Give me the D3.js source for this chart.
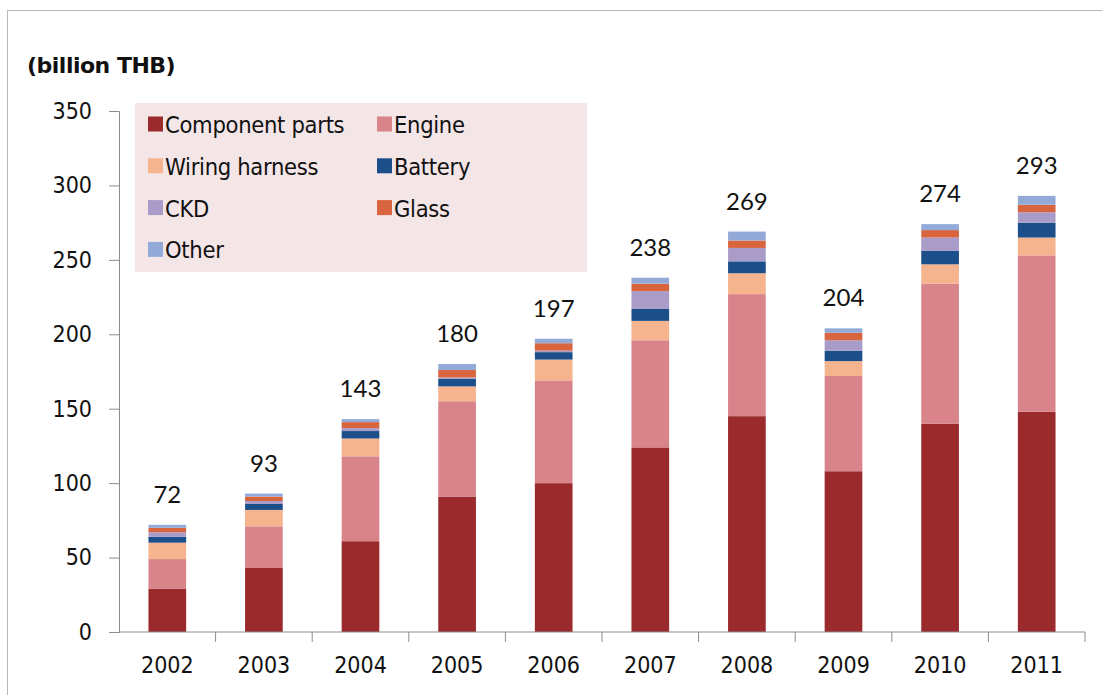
<!DOCTYPE html>
<html>
<head>
<meta charset="utf-8">
<script src="https://cdn.jsdelivr.net/npm/d3@7"></script>
<style>
  body { margin: 0; background: #fff; }
  svg { display: block; }
</style>
</head>
<body>
<svg id="chart" width="1102" height="695"></svg>
<script>
// values (billion THB)
var years = ["2002", "2003", "2004", "2005", "2006", "2007", "2008", "2009", "2010", "2011"];
var totals = [72, 93, 143, 180, 197, 238, 269, 204, 274, 293];
var seriesNames = ["Component parts", "Engine", "Wiring harness", "Battery", "CKD", "Glass", "Other"];
var componentParts = [29, 43, 61, 91, 100, 124, 145, 108, 140, 148];
var engine         = [20, 28, 57, 64, 69, 72, 82, 64, 94, 105];
var wiringHarness  = [11, 11, 12, 10, 14, 13, 14, 10, 13, 12];
var battery        = [4, 4, 5, 5, 5, 8, 8, 7, 9, 10];
var ckd            = [3, 2, 2, 1, 1, 12, 9, 7, 9, 7];
var glass          = [3, 3, 4, 5, 5, 5, 5, 5, 5, 5];
var other          = [2, 2, 2, 4, 3, 4, 6, 3, 4, 6];
var yTicks = [0, 50, 100, 150, 200, 250, 300, 350];

var colors = ["#9a2a2c", "#d9848b", "#f5b38e", "#1c4f8a", "#a99cc9", "#d9653e", "#93aad8"];

var seriesValues = [componentParts, engine, wiringHarness, battery, ckd, glass, other];
var rows = years.map(function (y, i) {
    var r = { year: y };
    seriesNames.forEach(function (s, k) { r[s] = seriesValues[k][i]; });
    return r;
});

var svg = d3.select("#chart");

// outer frame
svg.append("rect")
    .attr("x", 7.5).attr("y", 10.5)
    .attr("width", 1200).attr("height", 800)
    .attr("fill", "none")
    .attr("stroke", "#b8b8b8");

var x = d3.scaleBand().domain(years).range([119, 1085]).paddingInner(0.61).paddingOuter(0.305);
var y = d3.scaleLinear().domain([0, 350]).range([632, 111]);

var stack = d3.stack().keys(seriesNames);
var layers = stack(rows);

// bars
svg.append("g").selectAll("g")
    .data(layers)
    .enter().append("g")
    .attr("fill", function (d, i) { return colors[i]; })
    .selectAll("rect")
    .data(function (d) { return d; })
    .enter().append("rect")
    .attr("x", function (d) { return x(d.data.year); })
    .attr("width", x.bandwidth())
    .attr("y", function (d) { return y(d[1]); })
    .attr("height", function (d) { return y(d[0]) - y(d[1]); });

var tickFont = "'DejaVu Sans Condensed', 'Liberation Sans Narrow', sans-serif";

// y axis
var yAxis = svg.append("g")
    .attr("transform", "translate(119,0)")
    .call(d3.axisLeft(y).tickValues(yTicks).tickSize(10).tickPadding(17));
yAxis.select(".domain").attr("stroke", "#8c8c8c");
yAxis.selectAll(".tick line").attr("stroke", "#8c8c8c");
yAxis.selectAll("text")
    .attr("fill", "#111")
    .style("font-family", tickFont)
    .style("font-size", "23px");

// x axis, ticks between categories
var xAxisG = svg.append("g").attr("transform", "translate(0,632)");
xAxisG.append("line")
    .attr("x1", 119).attr("x2", 1085)
    .attr("stroke", "#8c8c8c");
var step = x.step();
var gap = (step - x.bandwidth()) / 2;
xAxisG.selectAll(".sep")
    .data(years)
    .enter().append("line")
    .attr("x1", function (d) { return x(d) - gap + step; })
    .attr("x2", function (d) { return x(d) - gap + step; })
    .attr("y1", 0).attr("y2", 10)
    .attr("stroke", "#8c8c8c");
xAxisG.selectAll(".lbl")
    .data(years)
    .enter().append("text")
    .attr("x", function (d) { return x(d) + x.bandwidth() / 2; })
    .attr("y", 41)
    .attr("text-anchor", "middle")
    .attr("fill", "#111")
    .style("font-family", tickFont)
    .style("font-size", "23px")
    .text(function (d) { return d; });

// totals above bars
svg.append("g").selectAll("text")
    .data(rows)
    .enter().append("text")
    .attr("x", function (d) { return x(d.year) + x.bandwidth() / 2; })
    .attr("y", function (d, i) { return y(totals[i]) - 22; })
    .attr("text-anchor", "middle")
    .attr("fill", "#111")
    .style("font-family", "Lato, 'Open Sans', sans-serif")
    .style("font-size", "24px")
    .text(function (d, i) { return totals[i]; });

// unit label
svg.append("text")
    .attr("x", 27).attr("y", 73)
    .attr("fill", "#111")
    .style("font-family", "'DejaVu Sans', sans-serif")
    .style("font-weight", "bold")
    .style("font-size", "22px")
    .style("letter-spacing", "-0.5px")
    .text("(billion THB)");

// legend
var legend = svg.append("g");
legend.append("rect")
    .attr("x", 135).attr("y", 103)
    .attr("width", 452).attr("height", 169)
    .attr("fill", "#f4e5e7");
var legendItems = legend.selectAll(".item")
    .data(seriesNames)
    .enter().append("g")
    .attr("transform", function (d, i) {
        var col = i % 2, row = Math.floor(i / 2);
        return "translate(" + (col === 0 ? 148 : 377) + "," + (124.5 + row * 41.8) + ")";
    });
legendItems.append("rect")
    .attr("x", 0).attr("y", -8)
    .attr("width", 15).attr("height", 15)
    .attr("fill", function (d, i) { return colors[i]; });
legendItems.append("text")
    .attr("x", 17).attr("y", 8.5)
    .attr("fill", "#111")
    .style("font-family", "'DejaVu Sans Condensed', 'DejaVu Sans', sans-serif")
    .style("font-size", "23.5px")
    .style("letter-spacing", "-0.3px")
    .text(function (d) { return d; });
</script>
</body>
</html>
